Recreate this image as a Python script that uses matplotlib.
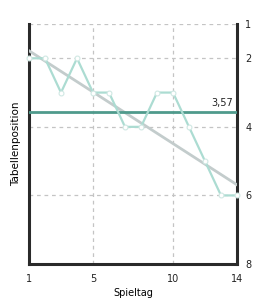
import numpy as np
import matplotlib.pyplot as plt

# Tabellenposition pro Spieltag
spieltag = [1, 2, 3, 4, 5, 6, 7, 8, 9, 10, 11, 12, 13, 14]
position = [2, 2, 3, 2, 3, 3, 4, 4, 3, 3, 4, 5, 6, 6]

trend_x = [1, 14]
trend_y = [1.78, 5.69]

x_ticks = [1, 5, 10, 14]
y_ticks = [1, 2, 4, 6, 8]

mittel = np.mean(position)

fig = plt.figure(figsize=(2.66, 2.99), dpi=100)
ax = fig.add_axes([29 / 266, 1 - 264 / 299, 208 / 266, 240 / 299])

ax.plot(spieltag, position, color="#acdcd2", lw=1.6, marker="o", ms=3.5,
        mfc="white", mec="#d0e8e3", mew=0.8, zorder=4, clip_on=False)
ax.plot(trend_x, trend_y, color="#c3cccc", lw=2, zorder=3)
ax.axhline(mittel, color="#4f9a8c", lw=2, zorder=3)
ax.text(13.75, mittel - 0.12, f"{mittel:.2f}".replace(".", ","), ha="right",
        va="bottom", fontsize=7, color="#222222")

ax.set_xlim(1, 14)
ax.set_ylim(8, 1)
ax.set_xticks(x_ticks)
ax.set_yticks(y_ticks)
ax.yaxis.tick_right()
ax.tick_params(length=0, labelsize=7, colors="#222222")
ax.tick_params(axis="x", pad=7)
ax.tick_params(axis="y", pad=6)

ax.grid(True, color="#c4c4c4", linestyle=(0, (3, 3)), lw=0.9)
ax.set_axisbelow(True)
for side in ["left", "right", "bottom"]:
    ax.spines[side].set_linewidth(2.2)
    ax.spines[side].set_color("#2a2a2a")
ax.spines["top"].set_visible(False)

ax.set_xlabel("Spieltag", fontsize=7, labelpad=3)
ax.set_ylabel("Tabellenposition", fontsize=7.5, labelpad=6)
ax.yaxis.set_label_position("left")

plt.savefig("out.png", dpi=100)
